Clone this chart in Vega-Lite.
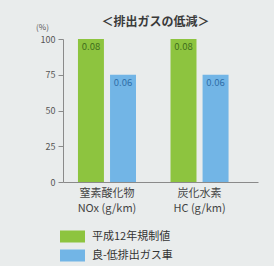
{
  "$schema": "https://vega.github.io/schema/vega-lite/v6.json",
  "width": 195,
  "height": 143,
  "autosize": {"type": "none"},
  "padding": {"left": 63, "top": 39, "right": 16, "bottom": 84},
  "background": "#e9ecec",
  "title": {
    "text": "＜排出ガスの低減＞",
    "fontSize": 12,
    "fontWeight": "bold",
    "color": "#3a3a3a",
    "font": "Noto Sans CJK JP",
    "anchor": "middle",
    "offset": -6,
    "dx": -5
  },
  "config": {
    "font": "Noto Sans CJK JP",
    "view": {"stroke": null}
  },
  "data": {
    "values": [
      {"group": "窒素酸化物|NOx (g/km)", "series": "平成12年規制値", "pct": 100, "label": "0.08"},
      {"group": "窒素酸化物|NOx (g/km)", "series": "良-低排出ガス車", "pct": 75, "label": "0.06"},
      {"group": "炭化水素|HC (g/km)", "series": "平成12年規制値", "pct": 100, "label": "0.08"},
      {"group": "炭化水素|HC (g/km)", "series": "良-低排出ガス車", "pct": 75, "label": "0.06"}
    ]
  },
  "encoding": {
    "x": {
      "field": "group",
      "type": "nominal",
      "sort": null,
      "scale": {"paddingInner": 0.373, "paddingOuter": 0.24, "align": 0.337},
      "axis": {
        "title": null,
        "labelAngle": 0,
        "labelExpr": "split(datum.label, '|')",
        "labelFontSize": 11,
        "labelColor": "#444444",
        "labelPadding": 5,
        "labelLineHeight": 15,
        "ticks": false,
        "domainColor": "#8a8a8a",
        "labelFont": "Noto Sans CJK JP"
      }
    },
    "xOffset": {
      "field": "series",
      "type": "nominal",
      "sort": null,
      "scale": {"paddingInner": 0.19, "paddingOuter": 0}
    },
    "y": {
      "field": "pct",
      "type": "quantitative",
      "scale": {"domain": [0, 100]},
      "axis": {
        "values": [0, 25, 50, 75, 100],
        "title": "(%)",
        "titleAngle": 0,
        "titleX": -21,
        "titleY": -12,
        "titleAlign": "center",
        "titleBaseline": "middle",
        "titleFontSize": 8,
        "titleFontWeight": "normal",
        "titleColor": "#555555",
        "labelFontSize": 9,
        "labelColor": "#555555",
        "labelPadding": 3,
        "tickSize": 5,
        "tickColor": "#8a8a8a",
        "domainColor": "#8a8a8a",
        "grid": false
      }
    }
  },
  "layer": [
    {
      "mark": {"type": "bar"},
      "encoding": {
        "color": {
          "field": "series",
          "type": "nominal",
          "sort": null,
          "scale": {"range": ["#8dc43f", "#72b5e6"]},
          "legend": {
            "title": null,
            "orient": "none",
            "legendX": -3,
            "legendY": 188,
            "direction": "vertical",
            "symbolType": "M-1,-0.48H1V0.48H-1Z",
            "symbolSize": 625,
            "symbolStrokeWidth": 0,
            "symbolOpacity": 1,
            "labelFontSize": 11,
            "labelColor": "#333333",
            "labelOffset": 7,
            "clipHeight": 19,
            "rowPadding": 0
          }
        }
      }
    },
    {
      "mark": {"type": "text", "baseline": "top", "dy": 3, "fontSize": 9.5},
      "encoding": {
        "text": {"field": "label"},
        "color": {
          "field": "series",
          "type": "nominal",
          "sort": null,
          "scale": {"range": ["#3f6e1c", "#2f6ea8"]},
          "legend": null
        }
      }
    }
  ],
  "resolve": {"scale": {"color": "independent"}}
}
